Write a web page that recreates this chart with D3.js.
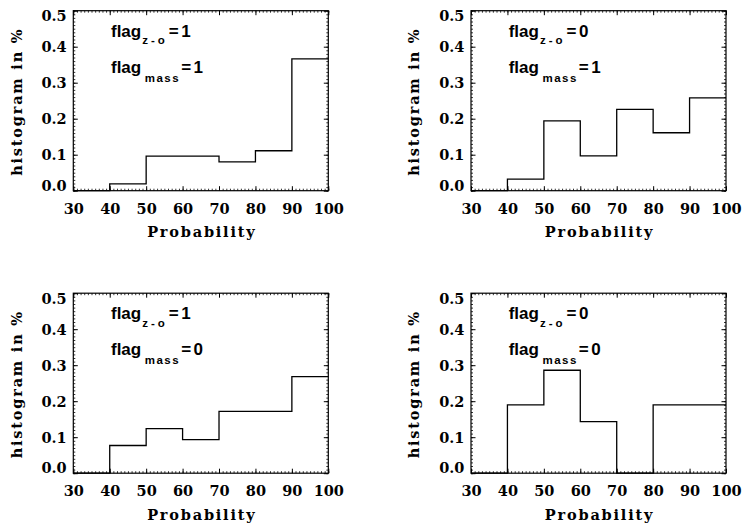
<!DOCTYPE html>
<html>
<head>
<meta charset="utf-8">
<script src="https://cdn.jsdelivr.net/npm/d3@7"></script>
<style>
  html, body { margin: 0; padding: 0; background: #fff; }
  svg { display: block; }
</style>
</head>
<body>
<svg id="chart" width="743" height="525"></svg>
<script>
// Bin edges of the probability histograms (percent)
const binEdges = [30, 40, 50, 60, 70, 80, 90, 100];

// Histogram fraction per bin (30-40, 40-50, ..., 90-100) for each flag combination
const histZ1M1 = [0, 0.019, 0.096, 0.096, 0.080, 0.111, 0.366];
const histZ0M1 = [0, 0.032, 0.194, 0.097, 0.226, 0.161, 0.258];
const histZ1M0 = [0, 0.077, 0.124, 0.093, 0.172, 0.172, 0.268];
const histZ0M0 = [0, 0.190, 0.286, 0.143, 0, 0.190, 0.190];

// Flag values shown in each panel (reading order: top-left, top-right, bottom-left, bottom-right)
const flagZO   = [1, 0, 1, 0];
const flagMass = [1, 1, 0, 0];
const panelValues = [histZ1M1, histZ0M1, histZ1M0, histZ0M0];

// Axis ticks and labels
const xTicks = [30, 40, 50, 60, 70, 80, 90, 100];
const yTicks = [0, 0.1, 0.2, 0.3, 0.4, 0.5];
const yTickLabels = ["0.0", "0.1", "0.2", "0.3", "0.4", "0.5"];
const xTitle = "Probability";
const yTitle = "histogram in %";

const SERIF = "'DejaVu Serif', 'Liberation Serif', 'Times New Roman', Times, 'Noto Serif', serif";
const SANS = "'Liberation Sans', Arial, Helvetica, sans-serif";

const svg = d3.select("#chart");
const W = 255, H = 180;
const colX = [73.3, 471];
const rowY = [10.7, 293.2];

const x = d3.scaleLinear().domain([30, 100]).range([0, W]);
const y = d3.scaleLinear().domain([0, 0.5]).range([H, 0]);

const xMinor = d3.range(30, 101, 1);
const yMinor = d3.range(0, 51, 1).map(d => d / 100);

const stepLine = d3.line()
  .x(d => x(d[0]))
  .y(d => y(d[1]))
  .curve(d3.curveStepAfter);

function serifText(sel, spacing) {
  sel.style("font-family", SERIF)
    .style("font-weight", "bold")
    .style("font-size", "14.5px")
    .style("letter-spacing", spacing + "px")
    .attr("fill", "#000");
}

function clearAxisFont(a) {
  a.attr("font-size", null).attr("font-family", null);
}

panelValues.forEach((vals, i) => {
  const g = svg.append("g")
    .attr("transform", `translate(${colX[i % 2]},${rowY[Math.floor(i / 2)]})`);

  // minor ticks on all four sides, pointing inward
  const minorTicks = [
    [d3.axisBottom(x).tickValues(xMinor), `translate(0,${H})`],
    [d3.axisTop(x).tickValues(xMinor), "translate(0,0)"],
    [d3.axisLeft(y).tickValues(yMinor), "translate(0,0)"],
    [d3.axisRight(y).tickValues(yMinor), `translate(${W},0)`]
  ];
  minorTicks.forEach(([ax, tr]) => {
    const a = g.append("g").attr("transform", tr)
      .call(ax.tickSize(-2).tickFormat(""));
    a.select(".domain").remove();
    a.selectAll("line").attr("stroke", "#000").attr("stroke-width", 0.8);
  });

  // major ticks on the top and right
  [[d3.axisTop(x).tickValues(xTicks), "translate(0,0)"],
   [d3.axisRight(y).tickValues(yTicks), `translate(${W},0)`]].forEach(([ax, tr]) => {
    const a = g.append("g").attr("transform", tr)
      .call(ax.tickSize(-4.5).tickFormat(""));
    a.select(".domain").remove();
    a.selectAll("line").attr("stroke", "#000").attr("stroke-width", 1);
  });

  // bottom axis with labels
  const bx = g.append("g").attr("transform", `translate(0,${H})`)
    .call(d3.axisBottom(x).tickValues(xTicks).tickSize(-4.5).tickPadding(13).tickFormat(d3.format("d")));
  bx.select(".domain").remove();
  bx.selectAll("line").attr("stroke", "#000").attr("stroke-width", 1);
  clearAxisFont(bx);
  serifText(bx.selectAll("text"), 0);

  // left axis with labels; the end labels sit inside the axis span
  const ly = g.append("g")
    .call(d3.axisLeft(y).tickValues(yTicks).tickSize(-4.5).tickPadding(6.6)
      .tickFormat((d, k) => yTickLabels[k]));
  ly.select(".domain").remove();
  ly.selectAll("line").attr("stroke", "#000").attr("stroke-width", 1);
  clearAxisFont(ly);
  serifText(ly.selectAll("text"), 0);
  ly.selectAll("text")
    .attr("dy", "0.36em")
    .attr("y", (d, k) => k === 0 ? -5.5 : (k === yTicks.length - 1 ? 5 : 0));

  // histogram outline
  const pts = binEdges.slice(0, -1).map((e, k) => [e, vals[k]]);
  pts.push([binEdges[binEdges.length - 1], vals[vals.length - 1]]);
  g.append("path")
    .attr("d", stepLine(pts))
    .attr("fill", "none")
    .attr("stroke", "#000")
    .attr("stroke-width", 1.3);

  // frame
  g.append("rect")
    .attr("width", W).attr("height", H)
    .attr("fill", "none").attr("stroke", "#000").attr("stroke-width", 1.2);

  // axis titles
  serifText(g.append("text")
    .attr("x", W / 2 + 1).attr("y", H + 46.6)
    .attr("text-anchor", "middle").text(xTitle), 1.8);
  serifText(g.append("text")
    .attr("transform", `translate(-51.6,${H / 2 + 1}) rotate(-90)`)
    .attr("text-anchor", "middle").text(yTitle), 1.8);

  // flag annotations
  const flagLine = (yPos, sub, val, subDy, subDx, subSpacing) => {
    const t = g.append("text").attr("x", 37.7).attr("y", yPos)
      .style("font-family", SANS).style("font-weight", "bold")
      .style("font-size", "17px").attr("fill", "#000");
    t.append("tspan").text("flag");
    t.append("tspan").attr("dy", subDy).attr("dx", subDx)
      .style("font-size", "11.5px").style("letter-spacing", subSpacing + "px").text(sub);
    t.append("tspan").attr("dy", -subDy).attr("dx", 1)
      .style("letter-spacing", "2.5px").text("=" + val);
  };
  flagLine(26, "z-o", flagZO[i], 7.6, 1, 3);
  flagLine(62, "mass", flagMass[i], 9, 3.5, 1.5);
});
</script>
</body>
</html>
